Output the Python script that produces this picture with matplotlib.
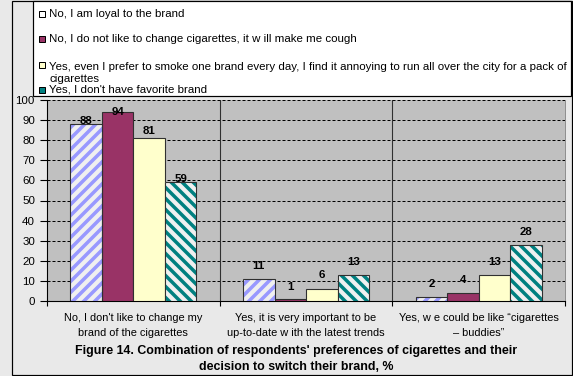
import matplotlib
matplotlib.use("Agg")
import matplotlib.pyplot as plt
from matplotlib.patches import Rectangle
import numpy as np

# ---------------- data ----------------
categories = [
    "No, I don't like to change my\nbrand of the cigarettes",
    "Yes, it is very important to be\nup-to-date w ith the latest trends",
    "Yes, w e could be like \u201ccigarettes\n\u2013 buddies\u201d",
]
series_names = [
    "No, I am loyal to the brand",
    "No, I do not like to change cigarettes, it w ill make me cough",
    "Yes, even I prefer to smoke one brand every day, I find it annoying to run all over the city for a pack of\ncigarettes",
    "Yes, I don't have favorite brand",
]
loyal = [88, 11, 2]
cough = [94, 1, 4]
annoying = [81, 6, 13]
no_favorite = [59, 13, 28]
y_ticks = [0, 10, 20, 30, 40, 50, 60, 70, 80, 90, 100]
title = ("Figure 14. Combination of respondents' preferences of cigarettes and their\n"
         "decision to switch their brand, %")

# ---------------- style ----------------
DPI = 132
W, H = 573, 376
def pt(p):  # pixels -> points
    return p * 72.0 / DPI
def fx(x):
    return x / W
def fy(y):
    return 1 - y / H

plt.rcParams['font.family'] = ['Liberation Sans', 'DejaVu Sans']
plt.rcParams['hatch.linewidth'] = pt(3.5)
plt.rcParams['lines.scale_dashes'] = False

faces = ['#f0f0f0', '#993366', '#ffffcc', '#f0f0f0']
hatch_colors = ['#9999ff', None, None, '#008080']
hatches = ['////', None, None, '\\\\\\\\']
legend_faces = ['#ffffff', '#993366', '#ffffcc', '#008080']
label_lift_px = [[3.5, 13, 13], [0, 12, 13], [7.5, 14, 13], [3, 13, 13]]

fig = plt.figure(figsize=(W / DPI, H / DPI), dpi=DPI, facecolor='#e9e9e9')

# chart border
fig.add_artist(Rectangle((fx(12), fy(375)), fx(572) - fx(12), fy(1) - fy(375),
                         transform=fig.transFigure, fill=False, edgecolor='black',
                         linewidth=pt(1.2), zorder=0))

ax = fig.add_axes([fx(47), fy(301), fx(565) - fx(47), fy(100) - fy(301)])
ax.set_facecolor('#c0c0c0')

series = [loyal, cough, annoying, no_favorite]
n = len(series)
bw = 31.5 / ((565 - 47) / 3.0)
xs = np.arange(len(categories))
for i, vals in enumerate(series):
    pos = xs + (i - (n - 1) / 2) * bw
    if hatches[i]:
        ax.bar(pos, vals, bw, color=faces[i], edgecolor=hatch_colors[i],
               hatch=hatches[i], linewidth=0, zorder=3)
        ax.bar(pos, vals, bw, fill=False, edgecolor='#303030',
               linewidth=pt(1.1), zorder=4)
    else:
        ax.bar(pos, vals, bw, color=faces[i], edgecolor='#303030',
               linewidth=pt(1.1), zorder=3)
    for j, (p, v) in enumerate(zip(pos, vals)):
        ax.annotate(str(v), (p, v), xytext=(0, pt(label_lift_px[i][j])),
                    textcoords='offset points', ha='center', va='center',
                    fontsize=pt(11.5), fontweight='bold', color='black', zorder=6)

ax.set_xlim(-0.5, len(categories) - 0.5)
ax.set_ylim(0, 100)
ax.set_yticks(y_ticks)
ax.set_yticklabels([str(t) for t in y_ticks])
ax.tick_params(axis='y', direction='out', length=pt(7), width=pt(1.1),
               labelsize=pt(11.5), pad=pt(5), colors='black')
ax.yaxis.grid(True, color='black', linestyle=(0, (pt(3), pt(2))),
              linewidth=pt(1), zorder=1)

# category boundaries
bounds = np.arange(len(categories) + 1) - 0.5
ax.set_xticks(bounds)
ax.set_xticklabels([''] * len(bounds))
ax.tick_params(axis='x', which='major', direction='out', length=pt(5),
               width=pt(1.1), colors='black')
for b in bounds[1:-1]:
    ax.axvline(b, color='#303030', linewidth=pt(1.1), zorder=2)
ax.set_xticks(xs, minor=True)
ax.set_xticklabels(categories, minor=True, fontsize=pt(11), linespacing=1.65)
ax.tick_params(axis='x', which='minor', length=0, pad=pt(12))

ax.spines['top'].set_visible(False)
ax.spines['right'].set_color('#909090')
ax.spines['right'].set_linewidth(pt(1))
ax.spines['left'].set_linewidth(pt(1.1))
ax.spines['bottom'].set_linewidth(pt(1.1))

# legend box (manual layout)
fig.add_artist(Rectangle((fx(33), fy(96)), fx(571) - fx(33), fy(1) - fy(96),
                         transform=fig.transFigure, facecolor='white',
                         edgecolor='black', linewidth=pt(1.2), zorder=1))
legend_y = [14, 39, 65, 90]
for i, name in enumerate(series_names):
    yy = legend_y[i]
    fig.add_artist(Rectangle((fx(39), fy(yy + 3)), fx(45) - fx(39), fy(yy - 3) - fy(yy + 3),
                             transform=fig.transFigure, facecolor=legend_faces[i],
                             edgecolor='black', linewidth=pt(1), zorder=2))
    if '\n' in name:
        fig.text(fx(49), fy(yy - 3), name, ha='left', va='top',
                 fontsize=pt(11.5), color='black', zorder=3, linespacing=1.25)
    else:
        fig.text(fx(49), fy(yy), name, ha='left', va='center',
                 fontsize=pt(11.5), color='black', zorder=3)

fig.text(fx(296), fy(345), title, ha='center', va='top', fontsize=pt(12.4),
         fontweight='bold', color='black', linespacing=1.4)

fig.savefig('out.png', dpi=DPI, facecolor=fig.get_facecolor())
